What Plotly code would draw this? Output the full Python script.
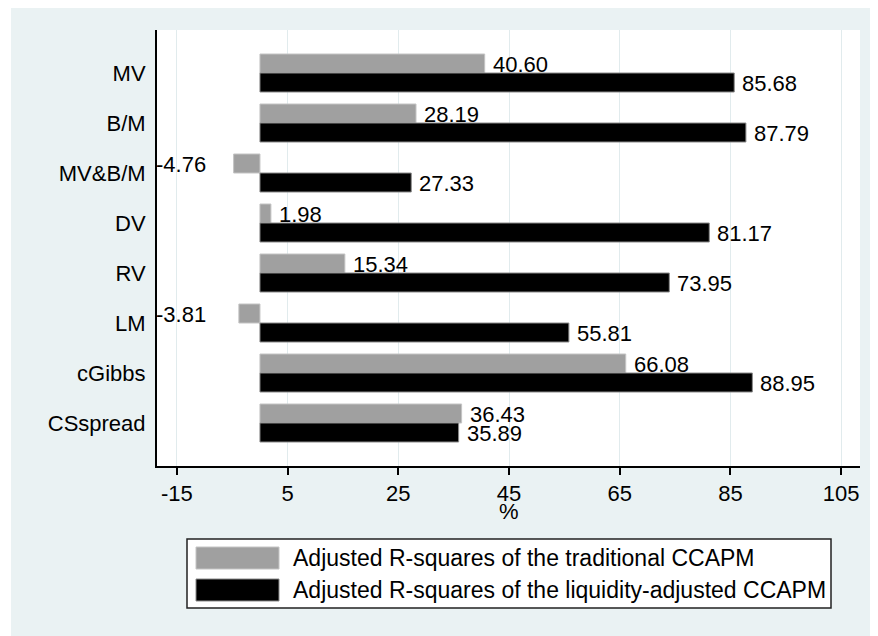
import plotly.graph_objects as go

categories = ["MV", "B/M", "MV&B/M", "DV", "RV", "LM", "cGibbs", "CSspread"]
traditional = [40.60, 28.19, -4.76, 1.98, 15.34, -3.81, 66.08, 36.43]
liquidity = [85.68, 87.79, 27.33, 81.17, 73.95, 55.81, 88.95, 35.89]
series_names = ["Adjusted R-squares of the traditional CCAPM",
                "Adjusted R-squares of the liquidity-adjusted CCAPM"]
tick_vals = [-15, 5, 25, 45, 65, 85, 105]
x_title = "%"

X_MIN, X_MAX = -18.6, 108.4
FONT = "Liberation Sans, Arial, sans-serif"
BG = "#EAF2F3"
GRAY = "#A0A0A0"
BLACK = "#000000"

fig = go.Figure()
fig.add_trace(go.Bar(y=categories, x=traditional, orientation="h", name=series_names[0],
                     marker=dict(color=GRAY, line=dict(color="#C4C4C4", width=1)),
                     showlegend=False))
fig.add_trace(go.Bar(y=categories, x=liquidity, orientation="h", name=series_names[1],
                     marker=dict(color=BLACK, line=dict(color="#8A8A8A", width=1)),
                     showlegend=False))

annotations = []
for series, shift in ((traditional, 9.5), (liquidity, -9.5)):
    for cat, v in zip(categories, series):
        annotations.append(dict(
            x=v if v > 0 else X_MIN, y=cat, xref="x", yref="y",
            text=f"{v:.2f}", showarrow=False, xanchor="left", yanchor="middle",
            xshift=6 if v > 0 else -3, yshift=shift - 1,
            font=dict(family=FONT, size=22, color="#000000")))

# positions in screen pixels -> paper coords (plot area spans px 157..860 x, 30..466 y on screen)
def px_x(p):
    return (p - 157) / 703.0

def px_y(p):
    return (466 - p) / 436.0

shapes = [
    # white image border on the left
    dict(type="rect", xref="paper", yref="paper", x0=px_x(0), x1=px_x(11), y0=px_y(660), y1=px_y(-2),
         fillcolor="white", line=dict(width=0), layer="above"),
    # legend box
    dict(type="rect", xref="paper", yref="paper", x0=px_x(187), x1=px_x(831), y0=px_y(608), y1=px_y(539),
         fillcolor="white", line=dict(color="#222222", width=1.5)),
    dict(type="rect", xref="paper", yref="paper", x0=px_x(196), x1=px_x(279), y0=px_y(569), y1=px_y(547),
         fillcolor=GRAY, line=dict(color="#C4C4C4", width=1)),
    dict(type="rect", xref="paper", yref="paper", x0=px_x(196), x1=px_x(279), y0=px_y(601), y1=px_y(579),
         fillcolor=BLACK, line=dict(color="#8A8A8A", width=1)),
]
for name, yc in zip(series_names, (558, 590)):
    annotations.append(dict(x=px_x(291), y=px_y(yc), xref="paper", yref="paper", text=name,
                            showarrow=False, xanchor="left", yanchor="middle",
                            font=dict(family=FONT, size=23, color="#000000")))
# x-axis title
annotations.append(dict(x=0.5, y=px_y(512), xref="paper", yref="paper", text=x_title,
                        showarrow=False, xanchor="center", yanchor="middle",
                        font=dict(family=FONT, size=22, color="#000000")))

# the page body adds an 8px offset, so figure margins are shifted by -8 px
fig.update_layout(
    width=878, height=636,
    margin=dict(l=149, r=26, t=22, b=178, autoexpand=False),
    paper_bgcolor=BG, plot_bgcolor="white",
    barmode="group", bargap=0.24, bargroupgap=0,
    font=dict(family=FONT, size=22, color="#000000"),
    annotations=annotations, shapes=shapes, showlegend=False,
    xaxis=dict(range=[X_MIN, X_MAX], tickvals=tick_vals, ticktext=[str(t) for t in tick_vals],
               ticks="outside", ticklen=7, tickwidth=1.5, tickcolor="#000000",
               showline=True, linecolor="#000000", linewidth=2,
               showgrid=True, gridcolor="#E1EBED", gridwidth=1, zeroline=False,
               tickfont=dict(family=FONT, size=22, color="#000000")),
    yaxis=dict(type="category", range=[7.86, -0.86], ticks="", showline=True,
               linecolor="#000000", linewidth=2, showgrid=False, zeroline=False,
               ticklabelstandoff=5,
               tickfont=dict(family=FONT, size=22, color="#000000")),
)

fig.write_html("out.html")
